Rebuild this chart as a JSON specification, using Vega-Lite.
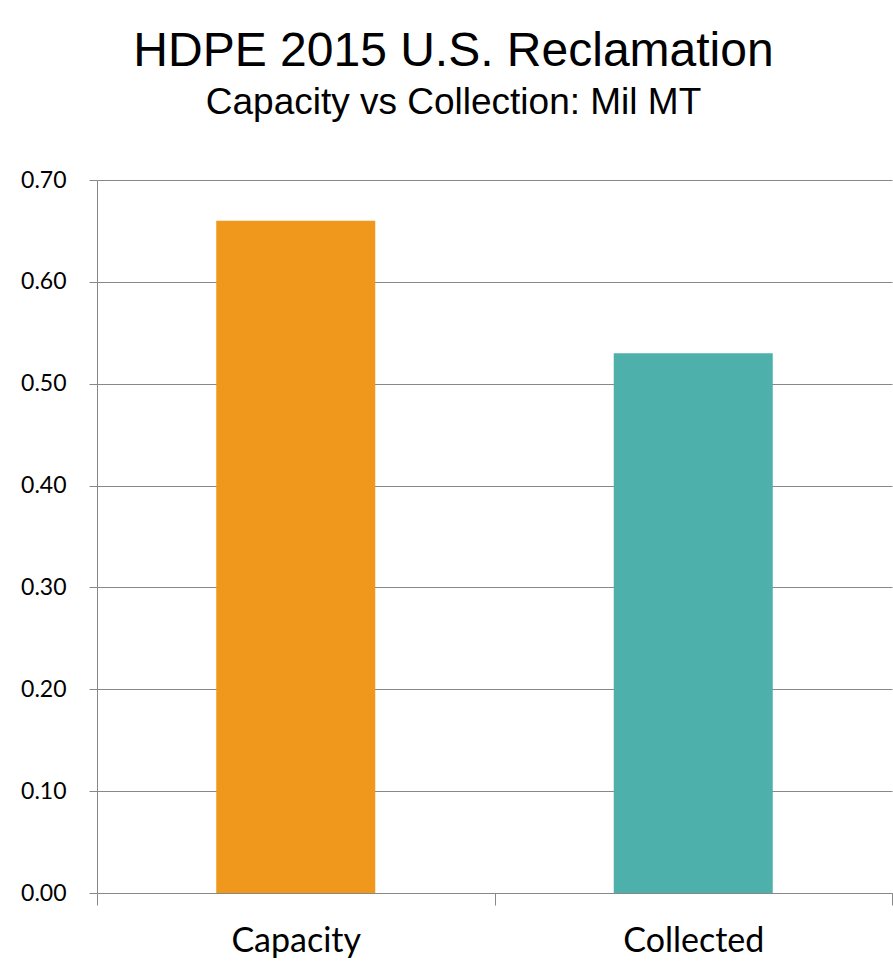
{
  "$schema": "https://vega.github.io/schema/vega-lite/v6.json",
  "autosize": "none",
  "width": 795,
  "height": 713,
  "padding": {"left": 97, "top": 180, "right": 1, "bottom": 72},
  "background": "white",
  "title": {
    "text": "HDPE 2015 U.S. Reclamation",
    "subtitle": "Capacity vs Collection: Mil MT",
    "anchor": "middle",
    "dx": -41,
    "offset": 48,
    "font": "Liberation Sans",
    "fontSize": 48,
    "fontWeight": "normal",
    "color": "black",
    "subtitleFont": "Liberation Sans",
    "subtitleFontSize": 37,
    "subtitleColor": "black",
    "subtitlePadding": 9
  },
  "data": {
    "values": [
      {"category": "Capacity", "value": 0.66},
      {"category": "Collected", "value": 0.53}
    ]
  },
  "mark": {"type": "bar", "width": {"band": 0.4}},
  "encoding": {
    "x": {
      "field": "category",
      "type": "nominal",
      "sort": null,
      "scale": {"paddingInner": 0, "paddingOuter": 0},
      "axis": {
        "title": null,
        "labelAngle": 0,
        "tickBand": "extent",
        "tickSize": 12,
        "tickColor": "#888888",
        "domainColor": "#888888",
        "labelFont": "Lato",
        "labelFontSize": 34,
        "labelColor": "black",
        "labelBaseline": "alphabetic",
        "labelPadding": 46,
        "grid": false
      }
    },
    "y": {
      "field": "value",
      "type": "quantitative",
      "scale": {"domain": [0, 0.7], "nice": false},
      "axis": {
        "title": null,
        "values": [0, 0.1, 0.2, 0.3, 0.4, 0.5, 0.6, 0.7],
        "format": ".2f",
        "tickSize": 8,
        "tickColor": "#888888",
        "domainColor": "#888888",
        "gridColor": "#888888",
        "gridOpacity": 1,
        "labelFont": "Lato",
        "labelFontSize": 23,
        "labelColor": "black",
        "labelPadding": 23
      }
    },
    "color": {
      "field": "category",
      "type": "nominal",
      "scale": {"domain": ["Capacity", "Collected"], "range": ["#F0981C", "#4DB0AB"]},
      "legend": null
    }
  },
  "config": {"view": {"stroke": null}}
}
